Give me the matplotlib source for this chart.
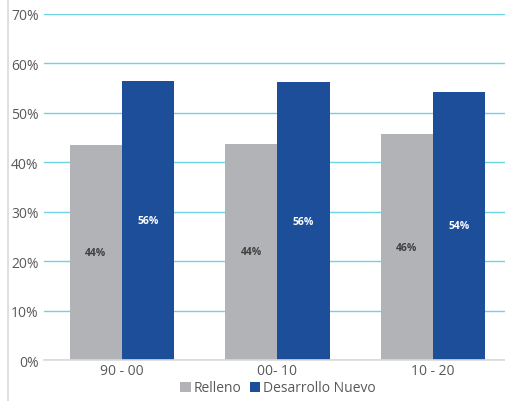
import matplotlib
matplotlib.use("Agg")
import matplotlib.pyplot as plt
import numpy as np
from matplotlib.lines import Line2D

periods = ["90 - 00", "00- 10", "10 - 20"]
relleno = [43.6, 43.8, 45.7]
desarrollo_nuevo = [56.4, 56.2, 54.3]
y_ticks = [0, 10, 20, 30, 40, 50, 60, 70]

GRAY = "#B2B3B6"
BLUE = "#1C4E9A"
GRID = "#6FD3E3"
TEXT = "#595959"

plt.rcParams["font.family"] = ["Open Sans", "DejaVu Sans"]

fig = plt.figure(figsize=(5.05, 4.02), dpi=100)
ax = fig.add_axes([0.0876, 0.1012, 0.9238, 0.8615])

x = np.arange(len(periods))
w = 0.335
b1 = ax.bar(x - w / 2, relleno, w, color=GRAY, label="Relleno", zorder=3)
b2 = ax.bar(x + w / 2, desarrollo_nuevo, w, color=BLUE, label="Desarrollo Nuevo", zorder=3)

for rect, v in zip(b1, relleno):
    ax.text(rect.get_x() + rect.get_width() / 2, v / 2, f"{v:.0f}%",
            ha="center", va="center", fontsize=7.5, fontweight="bold",
            color="#404040", zorder=4)
for rect, v in zip(b2, desarrollo_nuevo):
    ax.text(rect.get_x() + rect.get_width() / 2, v / 2, f"{v:.0f}%",
            ha="center", va="center", fontsize=7.5, fontweight="bold",
            color="white", zorder=4)

ax.set_xlim(-0.5, len(periods) - 0.5)
ax.set_ylim(0, 70)
ax.set_yticks(y_ticks)
ax.set_yticklabels([f"{t}%" for t in y_ticks])
ax.set_xticks(x)
ax.set_xticklabels(periods)
ax.tick_params(axis="both", length=0, labelsize=10, colors=TEXT)
ax.tick_params(axis="y", pad=4)
ax.tick_params(axis="x", pad=2)

ax.yaxis.grid(True, color=GRID, linewidth=1.0, zorder=0)
for s in ["top", "right", "left"]:
    ax.spines[s].set_visible(False)
ax.spines["bottom"].set_color("#D9D9D9")
ax.spines["bottom"].set_linewidth(1.2)
ax.spines["bottom"].set_zorder(5)

leg = fig.legend(handles=[b1, b2], labels=["Relleno", "Desarrollo Nuevo"],
                 loc="center", bbox_to_anchor=(278 / 505, 1 - 389 / 402),
                 ncol=2, frameon=False, fontsize=10, handlelength=0.75,
                 handleheight=0.75, handletextpad=0.2, columnspacing=0.6,
                 borderpad=0)
for t in leg.get_texts():
    t.set_color(TEXT)

fig.add_artist(Line2D([7.5 / 505, 7.5 / 505], [0, 1], color="#D9D9D9", linewidth=1.2))

fig.savefig("out.png", dpi=100)
